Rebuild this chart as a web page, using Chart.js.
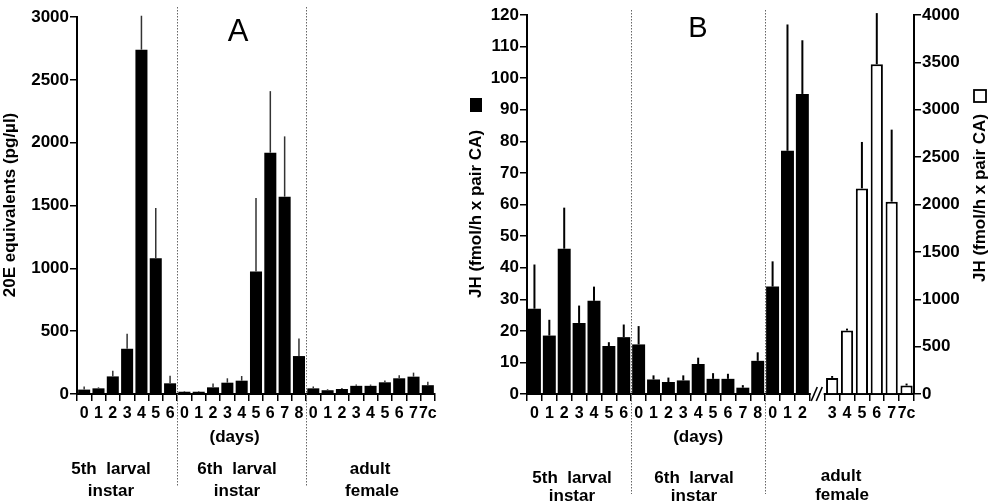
<!DOCTYPE html>
<html><head><meta charset="utf-8">
<script src="https://cdn.jsdelivr.net/npm/chart.js@4.4.1/dist/chart.umd.min.js"></script>
<style>
html,body{margin:0;padding:0;background:#fff;width:992px;height:502px;overflow:hidden}
#wa{position:absolute;left:0;top:0;width:460px;height:502px}
#wb{position:absolute;left:460px;top:0;width:532px;height:502px}
</style></head><body>
<div id="wa"><canvas id="ca"></canvas></div>
<div id="wb"><canvas id="cb"></canvas></div>
<script>
const FONT = '"Liberation Sans", Arial, Helvetica, sans-serif';

// ---------- Panel A data (20E equivalents, pg/µl) ----------
const catsA = ['0','1','2','3','4','5','6', '0','1','2','3','4','5','6','7','8', '0','1','2','3','4','5','6','7','7c'];
const ecdysA    = [35,45,140,360,2740,1080,85, 18,18,53,90,106,975,1920,1570,302, 45,30,40,65,65,93,125,138,70];
const ecdysErrA = [25,8,45,120,270,400,60,    5,5,30,35,37,585,490,480,140,      15,8,8,10,10,15,25,32,28];
const yTicksA = [0,500,1000,1500,2000,2500,3000];

// ---------- Panel B data (JH, fmol/h x pair CA) ----------
const catsB = ['0','1','2','3','4','5','6', '0','1','2','3','4','5','6','7','8', '0','1','2', '', '3','4','5','6','7','7c'];
const jhBlack    = [27,18.5,46,22.5,29.5,15.2,18, 15.7,4.6,3.8,4.3,9.5,4.8,4.8,2,10.5, 34,77,95];
const jhBlackErr = [14,5,13,5.5,4.5,1.2,4,       5.8,1.3,1.4,1.6,2,1.8,1.6,0.8,2.7,  8,40,17];
const jhWhite    = [170,670,2170,3480,2030,90];
const jhWhiteErr = [20,20,490,540,760,20];
const yTicksB  = [0,10,20,30,40,50,60,70,80,90,100,110,120];
const yTicksB2 = [0,500,1000,1500,2000,2500,3000,3500,4000];

const pad = n => Array(n).fill(null);

const panelCfg = {
  ca: {
    seps: [6.5, 15.5], sepTop: 7, sepBottom: 486,
    squares: [],
    texts: [
      { text: '20E equivalents (pg/µl)', px: 10, y: 205, size: 17, rot: true },
      { text: 'A', px: 238, y: 32, size: 31, weight: 'normal' },
      { text: '(days)', at: 10.5, y: 437, size: 17 },
      { text: '5th  larval', at: 1.87, y: 469, size: 17 },
      { text: 'instar', at: 1.87, y: 491, size: 17 },
      { text: '6th  larval', at: 10.67, y: 469, size: 17 },
      { text: 'instar', at: 10.67, y: 491, size: 17 },
      { text: 'adult', at: 19.96, y: 469, size: 17 },
      { text: 'female', at: 20.1, y: 491, size: 17 }
    ]
  },
  cb: {
    seps: [6.5, 15.5], sepTop: 10, sepBottom: 494, brk: 19,
    squares: [
      { px: 16, y: 105, w: 12, h: 14, fill: true },
      { px: 520, y: 96, w: 12, h: 12, fill: false }
    ],
    texts: [
      { text: 'JH (fmol/h x pair CA)', px: 16, y: 214, size: 17, rot: true },
      { text: 'JH (fmol/h x pair CA)', px: 520, y: 198, size: 17, rot: true },
      { text: 'B', px: 238, y: 29, size: 29, weight: 'normal' },
      { text: '(days)', at: 11, y: 437, size: 17 },
      { text: '5th  larval', at: 2.52, y: 478, size: 17 },
      { text: 'instar', at: 2.52, y: 496, size: 17 },
      { text: '6th  larval', at: 10.72, y: 478, size: 17 },
      { text: 'instar', at: 10.72, y: 496, size: 17 },
      { text: 'adult', at: 20.6, y: 476, size: 17 },
      { text: 'female', at: 20.67, y: 495, size: 17 }
    ]
  }
};

const panelPlugin = {
  id: 'panel',
  afterDraw(chart) {
    const o = panelCfg[chart.canvas.id];
    const ctx = chart.ctx, xs = chart.scales.x;
    // error bars
    chart.data.datasets.forEach((ds, di) => {
      if (!ds.errors) return;
      const meta = chart.getDatasetMeta(di);
      const ys = chart.scales[meta.yAxisID];
      ctx.save();
      ctx.strokeStyle = ds.errColor; ctx.lineWidth = ds.errWidth;
      ds.data.forEach((v, i) => {
        const e = ds.errors[i];
        if (v == null || e == null) return;
        const x = meta.data[i].x;
        ctx.beginPath();
        ctx.moveTo(x, ys.getPixelForValue(v));
        ctx.lineTo(x, ys.getPixelForValue(v + e));
        ctx.stroke();
      });
      ctx.restore();
    });
    // dotted separators
    ctx.save();
    ctx.strokeStyle = '#666'; ctx.lineWidth = 1; ctx.setLineDash([1.5, 1.5]);
    o.seps.forEach(s => {
      const x = Math.round(xs.getPixelForValue(s)) + 0.5;
      ctx.beginPath(); ctx.moveTo(x, o.sepTop); ctx.lineTo(x, o.sepBottom); ctx.stroke();
    });
    ctx.restore();
    // axis break
    if (o.brk != null) {
      const cx = xs.getPixelForValue(o.brk);
      const yb = chart.chartArea.bottom;
      const l = xs.getPixelForValue(o.brk - 0.5), r = xs.getPixelForValue(o.brk + 0.5);
      ctx.save();
      ctx.fillStyle = '#fff';
      ctx.fillRect(l + 1, yb - 3, r - l - 2, 6);
      ctx.strokeStyle = '#000'; ctx.lineWidth = 1.6;
      [-3, 2].forEach(d => {
        ctx.beginPath(); ctx.moveTo(cx + d - 3, yb + 7); ctx.lineTo(cx + d + 3, yb - 7); ctx.stroke();
      });
      ctx.restore();
    }
    // legend squares for the axis titles
    o.squares.forEach(s => {
      ctx.save();
      if (s.fill) { ctx.fillStyle = '#000'; ctx.fillRect(s.px - s.w / 2, s.y - s.h / 2, s.w, s.h); }
      else { ctx.strokeStyle = '#000'; ctx.lineWidth = 1.8; ctx.strokeRect(s.px - s.w / 2, s.y - s.h / 2, s.w, s.h); }
      ctx.restore();
    });
    // texts
    o.texts.forEach(t => {
      ctx.save();
      ctx.fillStyle = '#000';
      ctx.font = (t.weight || 'bold') + ' ' + t.size + 'px ' + FONT;
      ctx.textAlign = 'center'; ctx.textBaseline = 'middle';
      const x = (t.at !== undefined) ? xs.getPixelForValue(t.at) : t.px;
      ctx.translate(x, t.y);
      if (t.rot) ctx.rotate(-Math.PI / 2);
      ctx.fillText(t.text, 0, 0);
      ctx.restore();
    });
  }
};

function xScale() {
  return {
    offset: true,
    grid: { display: true, drawOnChartArea: false, drawTicks: true, tickLength: 7, color: '#000', lineWidth: 1.5, offset: true },
    border: { color: '#000', width: 2 },
    ticks: { font: { family: FONT, size: 16, weight: 'bold' }, color: '#000', padding: 3, maxRotation: 0, minRotation: 0, autoSkip: false },
    afterFit: s => { s.height = 108; }
  };
}
function yScale(min, max, ticks, pos, w) {
  return {
    position: pos, min: min, max: max,
    grid: { display: true, drawOnChartArea: false, drawTicks: true, tickLength: 7, color: '#000', lineWidth: 1.5 },
    border: { color: '#000', width: 2 },
    ticks: { font: { family: FONT, size: 17, weight: 'bold' }, color: '#000', padding: 1, callback: v => String(v) },
    afterBuildTicks: s => { s.ticks = ticks.map(v => ({ value: v })); },
    afterFit: s => { s.width = w; }
  };
}

new Chart(document.getElementById('ca'), {
  type: 'bar',
  data: {
    labels: catsA,
    datasets: [{
      data: ecdysA, errors: ecdysErrA, errColor: '#333', errWidth: 1.5,
      backgroundColor: '#000', borderWidth: 0, categoryPercentage: 1, barPercentage: 0.84
    }]
  },
  options: {
    responsive: true, maintainAspectRatio: false, animation: false,
    layout: { padding: { top: 17, right: 25, left: 0, bottom: 0 } },
    scales: { x: xScale(), y: yScale(0, 3000, yTicksA, 'left', 77) },
    plugins: { legend: { display: false }, tooltip: { enabled: false } }
  },
  plugins: [panelPlugin]
});

new Chart(document.getElementById('cb'), {
  type: 'bar',
  data: {
    labels: catsB,
    datasets: [{
      data: [...jhBlack, ...pad(7)], errors: [...jhBlackErr, ...pad(7)], errColor: '#000', errWidth: 2,
      yAxisID: 'y', grouped: false,
      backgroundColor: '#000', borderWidth: 0, categoryPercentage: 1, barPercentage: 0.87
    }, {
      data: [...pad(20), ...jhWhite], errors: [...pad(20), ...jhWhiteErr], errColor: '#000', errWidth: 2,
      yAxisID: 'y1', grouped: false,
      backgroundColor: '#fff', borderColor: '#000', borderWidth: 2, borderSkipped: 'bottom',
      categoryPercentage: 1, barPercentage: 0.82
    }]
  },
  options: {
    responsive: true, maintainAspectRatio: false, animation: false,
    layout: { padding: { top: 15, right: 0, left: 0, bottom: 0 } },
    scales: {
      x: xScale(),
      y: yScale(0, 120, yTicksB, 'left', 67),
      y1: yScale(0, 4000, yTicksB2, 'right', 78)
    },
    plugins: { legend: { display: false }, tooltip: { enabled: false } }
  },
  plugins: [panelPlugin]
});
</script>
</body></html>
